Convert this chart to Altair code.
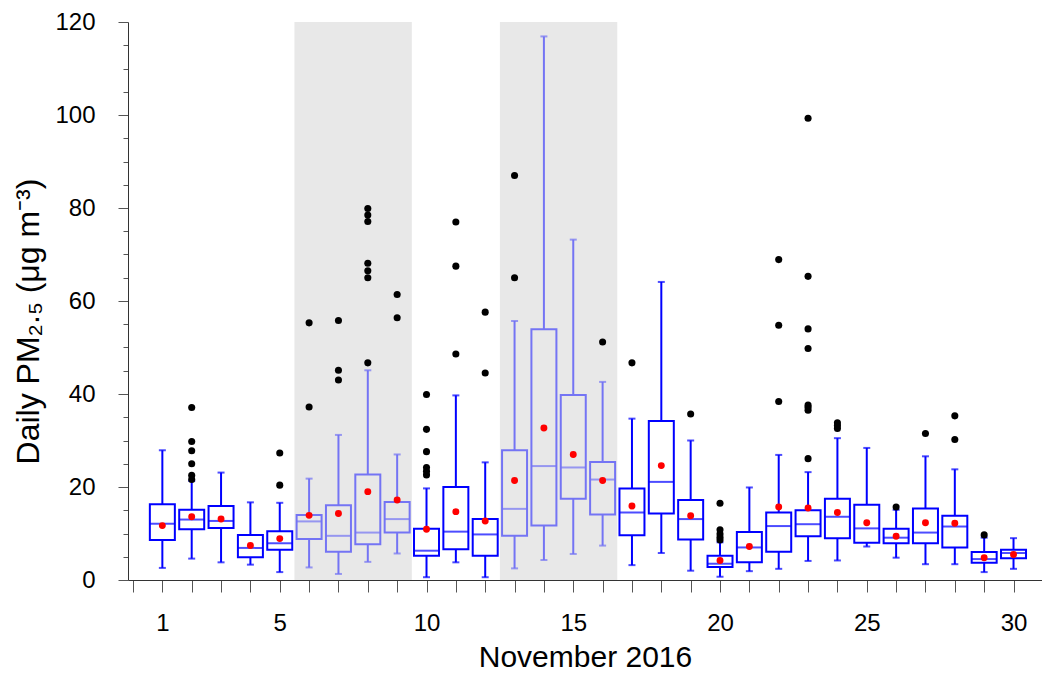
import altair as alt
import pandas as pd

# ---- data ----
days = list(range(1, 31))
shaded_days = [6, 7, 8, 9, 13, 14, 15, 16]
whisk_lo = [2.6, 4.6, 3.8, 3.3, 1.7, 2.7, 1.3, 3.9, 5.7, 0.6, 3.8, 0.6, 2.5, 4.3, 5.6,
            7.4, 3.2, 5.8, 2.0, 0.7, 1.9, 2.4, 4.1, 4.2, 7.2, 4.8, 3.4, 3.4, 1.7, 2.4]
q1 = [8.6, 10.9, 11.2, 4.9, 6.5, 8.8, 6.1, 7.7, 10.2, 5.2, 6.6, 5.2, 9.5, 11.7, 17.5,
      14.1, 9.6, 14.3, 8.7, 2.8, 3.8, 6.1, 9.4, 9.0, 8.0, 7.9, 7.9, 7.0, 3.7, 4.7]
median = [12.1, 13.0, 12.7, 6.9, 7.9, 12.6, 9.5, 10.2, 13.1, 6.3, 10.4, 9.8, 15.3, 24.5, 24.2,
          21.6, 14.5, 21.1, 13.1, 3.5, 7.0, 11.6, 12.0, 13.6, 11.1, 9.1, 10.2, 11.5, 4.5, 5.8]
q3 = [16.3, 15.1, 15.9, 9.7, 10.5, 14.0, 16.1, 22.7, 16.8, 11.0, 20.0, 13.1, 27.9, 53.9, 39.8,
      25.4, 19.7, 34.2, 17.2, 5.2, 10.3, 14.5, 15.0, 17.5, 16.2, 11.0, 15.4, 13.8, 6.0, 6.5]
whisk_hi = [27.9, 21.3, 23.1, 16.7, 16.6, 21.8, 31.2, 45.1, 27.0, 19.7, 39.7, 25.3, 55.7, 116.9, 73.2,
            42.6, 34.7, 64.1, 30.0, 8.1, 19.9, 26.9, 23.2, 30.5, 28.4, 15.1, 26.6, 23.8, 9.1, 9.0]
mean = [11.7, 13.6, 13.1, 7.4, 8.9, 13.9, 14.3, 19.0, 17.2, 10.9, 14.7, 12.7, 21.4, 32.7, 27.0,
        21.4, 15.9, 24.6, 13.8, 4.2, 7.2, 15.7, 15.5, 14.5, 12.3, 9.4, 12.3, 12.2, 4.8, 5.5]

outlier_day = [2, 2, 2, 2, 2, 2,
               5, 5,
               6, 6,
               7, 7, 7,
               8, 8, 8, 8, 8, 8, 8,
               9, 9,
               10, 10, 10, 10, 10, 10,
               11, 11, 11,
               12, 12,
               13, 13,
               16, 17, 19,
               20, 20, 20, 20, 20,
               22, 22, 22,
               23, 23, 23, 23, 23, 23, 23, 23,
               24, 24, 24,
               26, 27, 28, 28, 29]
outlier_val = [37.1, 29.8, 27.8, 25.0, 22.5, 21.6,
               27.3, 20.4,
               55.3, 37.2,
               55.8, 45.1, 43.0,
               79.9, 78.5, 77.1, 68.1, 66.5, 65.0, 46.7,
               61.4, 56.4,
               39.9, 32.4, 27.6, 24.2, 23.4, 22.6,
               77.0, 67.5, 48.6,
               57.6, 44.5,
               87.0, 65.0,
               51.2, 46.7, 35.7,
               16.5, 10.8, 9.9, 9.2, 8.6,
               68.9, 54.8, 38.4,
               99.3, 65.3, 54.0, 49.8, 37.6, 37.1, 36.5, 26.1,
               33.8, 33.2, 32.6,
               15.7, 31.5, 35.3, 30.2, 9.7]

shade_start = [5.5, 12.5]
shade_end = [9.5, 16.5]

x_ticks = list(range(0, 31))
x_labels = [1, 5, 10, 15, 20, 25, 30]
y_ticks = list(range(0, 121, 5))

# ---- tables ----
boxes = pd.DataFrame({
    "day": days, "lo": whisk_lo, "q1": q1, "med": median, "q3": q3,
    "hi": whisk_hi, "mean": mean,
    "grp": ["shaded" if d in shaded_days else "normal" for d in days],
})
outl = pd.DataFrame({"day": outlier_day, "val": outlier_val})
shade = pd.DataFrame({"s": shade_start, "e": shade_end})

W, H = 914, 558
FONT = "Liberation Sans"

xscale = alt.Scale(domain=[0, 30.8], nice=False, zero=False)
yscale = alt.Scale(domain=[0, 120], nice=False, zero=False)

xaxis = alt.Axis(
    values=x_ticks, grid=False, title="November 2016",
    labelExpr="indexof(" + str(x_labels) + ", datum.value) >= 0 ? datum.label : ''",
    labelFont=FONT, labelFontSize=24, labelColor="black", labelPadding=19,
    tickSize=12, tickColor="#555555", tickWidth=1,
    domainColor="#333333", domainWidth=1,
    titleFont=FONT, titleFontSize=30, titleFontWeight="normal", titleColor="black",
    titleBaseline="top", titleY=62,
)
yaxis = alt.Axis(
    values=y_ticks, grid=False, title="Daily PM₂.₅ (μg m⁻³)",
    labelExpr="datum.value % 20 === 0 ? datum.label : ''",
    labelFont=FONT, labelFontSize=24, labelColor="black", labelPadding=23,
    tickSize={"condition": {"test": "datum.value % 20 === 0", "value": 10}, "value": 5},
    tickColor="#555555", tickWidth=1,
    domainColor="#333333", domainWidth=1,
    titleFont=FONT, titleFontSize=32, titleFontWeight="normal", titleColor="black",
    titleBaseline="alphabetic", titleX=-90, titleY=H / 2 + 20, titleAngle=270,
)

stroke_scale = alt.Scale(domain=["normal", "shaded"], range=["#0000ff", "#7474f4"])

X = lambda f: alt.X(f, type="quantitative", scale=xscale, axis=xaxis)
Y = lambda f: alt.Y(f, type="quantitative", scale=yscale, axis=yaxis)
C = alt.Color("grp:N", scale=stroke_scale, legend=None)

shading = alt.Chart(shade).mark_rect(color="#e8e8e8").encode(
    x=X("s"), x2="e", y=alt.value(0), y2=alt.value(H)
)

base = alt.Chart(boxes)
wh_up = base.mark_rule(strokeWidth=2).encode(x=X("day"), y=Y("q3"), y2="hi", color=C)
wh_lo = base.mark_rule(strokeWidth=2).encode(x=X("day"), y=Y("lo"), y2="q1", color=C)
cap_hi = base.mark_tick(orient="horizontal", size=7, thickness=2).encode(x=X("day"), y=Y("hi"), color=C)
cap_lo = base.mark_tick(orient="horizontal", size=7, thickness=2).encode(x=X("day"), y=Y("lo"), color=C)
box = base.mark_bar(size=25, fillOpacity=0, strokeWidth=2).encode(
    x=X("day"), y=Y("q1"), y2="q3", stroke=alt.Stroke("grp:N", scale=stroke_scale, legend=None)
)
med = base.mark_tick(orient="horizontal", size=25, thickness=2).encode(x=X("day"), y=Y("med"), color=C)
outs = alt.Chart(outl).mark_circle(size=50, color="black", opacity=1).encode(x=X("day"), y=Y("val"))
means = base.mark_circle(size=48, color="#ff0000", opacity=1).encode(x=X("day"), y=Y("mean"))

chart = alt.layer(shading, wh_up, wh_lo, cap_hi, cap_lo, box, med, outs, means).properties(
    width=W, height=H,
    autosize=alt.AutoSizeParams(type="none"),
    padding={"left": 120, "top": 14, "right": 0, "bottom": 92},
    background="white",
).configure_view(stroke=None)

chart.save("out.html", embed_options={"renderer": "svg", "actions": False})
